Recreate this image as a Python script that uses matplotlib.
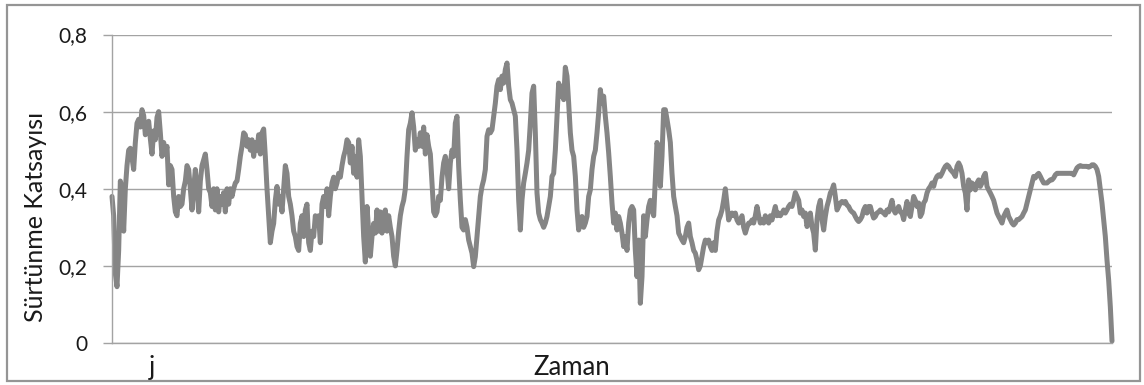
import numpy as np
import matplotlib.pyplot as plt
from matplotlib.patches import Rectangle


# friction coefficient readings, left to right
seg_1 = [0.38, 0.33, 0.18, 0.146, 0.24, 0.42, 0.40, 0.29, 0.40, 0.46,
         0.50, 0.505, 0.48, 0.45, 0.52, 0.57, 0.58, 0.56, 0.605, 0.59,
         0.54, 0.56, 0.575, 0.53, 0.49, 0.55, 0.527, 0.585, 0.60, 0.545,
         0.484, 0.52, 0.49, 0.51, 0.41, 0.46, 0.45, 0.38, 0.34, 0.33,
         0.38, 0.354, 0.36, 0.40, 0.42, 0.46, 0.45, 0.40, 0.345, 0.40,
         0.45, 0.40, 0.34, 0.42, 0.46, 0.475, 0.49, 0.45, 0.40, 0.39,
         0.354, 0.40, 0.345, 0.40, 0.34, 0.38, 0.36, 0.39, 0.34, 0.40,
         0.36, 0.40, 0.38, 0.40, 0.415, 0.42, 0.45, 0.484, 0.51, 0.545,
         0.54, 0.51, 0.527, 0.50, 0.527, 0.484, 0.52, 0.50, 0.54, 0.49,
         0.545, 0.555, 0.484, 0.40, 0.33, 0.26, 0.29, 0.31, 0.37, 0.406,
         0.36, 0.38, 0.34, 0.40, 0.46, 0.44, 0.38]

seg_2 = [0.36, 0.33, 0.29, 0.276, 0.25, 0.24, 0.31, 0.33, 0.276, 0.345,
         0.36, 0.26, 0.24, 0.29, 0.276, 0.33, 0.31, 0.33, 0.26, 0.36,
         0.38, 0.354, 0.40, 0.33, 0.38, 0.415, 0.43, 0.40, 0.415, 0.44,
         0.43, 0.46, 0.484, 0.50, 0.527, 0.52, 0.467, 0.51, 0.44, 0.484,
         0.43, 0.527, 0.484, 0.38, 0.276, 0.21, 0.354, 0.29, 0.225, 0.276,
         0.31, 0.285, 0.345, 0.29, 0.34, 0.285, 0.33, 0.345, 0.29, 0.33,
         0.30, 0.276, 0.225, 0.20, 0.24, 0.29, 0.33, 0.354, 0.37, 0.40,
         0.484, 0.553, 0.57, 0.597, 0.56, 0.50, 0.527, 0.51, 0.545, 0.51,
         0.56, 0.49, 0.54, 0.51, 0.49, 0.415, 0.34, 0.33, 0.34, 0.38,
         0.37, 0.43, 0.467, 0.484, 0.45, 0.40]

seg_3 = [0.467, 0.50, 0.484, 0.57, 0.588, 0.458, 0.371, 0.30, 0.293, 0.32,
         0.30, 0.267, 0.25, 0.233, 0.198, 0.224, 0.276, 0.328, 0.38, 0.406,
         0.423, 0.45, 0.536, 0.553, 0.545, 0.553, 0.588, 0.622, 0.666, 0.683,
         0.657, 0.692, 0.674, 0.709, 0.726, 0.666, 0.631, 0.622, 0.605, 0.588,
         0.50, 0.371, 0.293, 0.371, 0.415, 0.44, 0.467, 0.50, 0.57, 0.648,
         0.666, 0.545, 0.389, 0.337, 0.32, 0.311, 0.30, 0.311, 0.328, 0.354,
         0.38, 0.432, 0.44, 0.50, 0.588, 0.674, 0.64, 0.666, 0.631, 0.715,
         0.692, 0.622, 0.545, 0.50, 0.484, 0.432, 0.346, 0.293, 0.32, 0.328,
         0.30, 0.311, 0.328, 0.38, 0.397, 0.45, 0.484, 0.50, 0.545, 0.597,
         0.657, 0.622, 0.64, 0.588, 0.545, 0.493, 0.432, 0.363, 0.311, 0.337,
         0.293, 0.328]

seg_4 = [0.311, 0.285, 0.25, 0.276, 0.24, 0.311, 0.345, 0.354, 0.345, 0.24,
         0.172, 0.267, 0.103, 0.172, 0.33, 0.276, 0.319, 0.354, 0.37, 0.345,
         0.33, 0.423, 0.52, 0.50, 0.406, 0.484, 0.605, 0.605, 0.58, 0.553,
         0.52, 0.44, 0.38, 0.354, 0.33, 0.285, 0.276, 0.267, 0.26, 0.276,
         0.30, 0.311, 0.276, 0.26, 0.24, 0.233, 0.215, 0.19, 0.20, 0.225,
         0.25, 0.267, 0.26, 0.267, 0.25, 0.24, 0.26, 0.24, 0.29, 0.319,
         0.33, 0.345, 0.37, 0.40, 0.36, 0.319, 0.33, 0.337, 0.33, 0.337,
         0.319, 0.311, 0.319, 0.33, 0.30, 0.285, 0.30, 0.311, 0.311, 0.319,
         0.311, 0.33, 0.354, 0.33, 0.311, 0.319, 0.311, 0.33, 0.319, 0.311,
         0.33, 0.319, 0.337, 0.354, 0.33, 0.337, 0.33, 0.337, 0.345, 0.337,
         0.345, 0.354, 0.36, 0.354, 0.37, 0.39, 0.38, 0.37]

seg_5 = [0.337, 0.345, 0.328, 0.337, 0.302, 0.32, 0.337, 0.302, 0.285, 0.241,
         0.32, 0.354, 0.37, 0.32, 0.293, 0.328, 0.354, 0.37, 0.389, 0.397,
         0.41, 0.38, 0.345, 0.354, 0.363, 0.367, 0.363, 0.367, 0.358, 0.354,
         0.345, 0.34, 0.337, 0.328, 0.32, 0.315, 0.32, 0.328, 0.345, 0.354,
         0.337, 0.354, 0.354, 0.337, 0.324, 0.328, 0.337, 0.34, 0.345, 0.34,
         0.337, 0.332, 0.345, 0.34, 0.354, 0.37, 0.345, 0.337, 0.345, 0.354,
         0.34, 0.337, 0.32, 0.345, 0.367, 0.337, 0.328, 0.354, 0.38, 0.37,
         0.354, 0.363, 0.328, 0.337, 0.363, 0.37, 0.389, 0.40, 0.406, 0.415,
         0.406, 0.423, 0.432, 0.436, 0.432, 0.44, 0.45, 0.458, 0.462, 0.458,
         0.45, 0.445, 0.44, 0.432, 0.458, 0.467, 0.458, 0.44, 0.406, 0.389,
         0.345, 0.423, 0.397, 0.415, 0.406, 0.397, 0.415, 0.423, 0.406, 0.415,
         0.432, 0.44, 0.406, 0.397, 0.389, 0.38, 0.37, 0.354, 0.337, 0.328,
         0.32, 0.311, 0.328, 0.337, 0.345, 0.328, 0.32, 0.311, 0.306, 0.311,
         0.32, 0.32, 0.324, 0.328, 0.337, 0.345, 0.363, 0.38, 0.397, 0.415,
         0.432, 0.428, 0.436, 0.44, 0.432, 0.423, 0.415, 0.415, 0.415, 0.419,
         0.423, 0.423, 0.428, 0.436, 0.44, 0.44, 0.44, 0.44, 0.44, 0.44,
         0.44, 0.44, 0.44, 0.44, 0.436, 0.445, 0.454, 0.458, 0.46, 0.458,
         0.458, 0.458, 0.458, 0.456, 0.458, 0.462, 0.462, 0.458, 0.45, 0.432,
         0.397, 0.363, 0.32, 0.276, 0.215, 0.163, 0.094, 0.005]

y_ticks = [0, 0.2, 0.4, 0.6, 0.8]
y_tick_labels = ['0', '0,2', '0,4', '0,6', '0,8']
x_label_pos = 24  # where the stray "j" category label sits

line_color = '#858585'
grid_color = '#a3a3a3'
font = ['Lato', 'DejaVu Sans']


def main():
    plt.rcParams['font.family'] = font
    surtunme = np.concatenate([seg_1, seg_2, seg_3, seg_4, seg_5])
    zaman = np.arange(len(surtunme))

    fig = plt.figure(figsize=(11.44, 3.85), dpi=100, facecolor='white')
    ax = fig.add_axes([112 / 1144, 42 / 385, 1000 / 1144, 308.5 / 385])

    ax.plot(zaman, surtunme, color=line_color, lw=3.6,
            solid_joinstyle='round', solid_capstyle='round', clip_on=False)

    ax.set_xlim(0, len(surtunme) - 1)
    ax.set_ylim(0, 0.8)
    ax.set_yticks(y_ticks)
    ax.set_yticklabels(y_tick_labels)
    ax.set_xticks([])
    ax.grid(axis='y', color=grid_color, lw=1.0)
    ax.set_axisbelow(True)
    ax.tick_params(axis='y', length=6.5, width=1.0, color=grid_color,
                   pad=11.0, labelsize=15, labelcolor='#1a1a1a')
    for side in ('top', 'right'):
        ax.spines[side].set_visible(False)
    for side in ('left', 'bottom'):
        ax.spines[side].set_color(grid_color)
        ax.spines[side].set_linewidth(1.0)

    x_text = ax.get_xaxis_transform()
    ax.text(x_label_pos, -0.104, 'j', transform=x_text, ha='center',
            va='baseline', fontsize=18.5, color='#1a1a1a')
    ax.text(0.46, -0.104, 'Zaman', transform=ax.transAxes, ha='center',
            va='baseline', fontsize=18.5, color='#1a1a1a')
    ax.text(-0.076, 0.408, 'Sürtünme Katsayısı', transform=ax.transAxes,
            rotation=90, ha='center', va='center', fontsize=18,
            color='#1a1a1a')

    # light frame round the whole chart
    fig.patches.append(Rectangle((7 / 1144, 4 / 385), 1133 / 1144, 376.5 / 385,
                                 transform=fig.transFigure, fill=False,
                                 edgecolor='#959595', lw=1.6))

    fig.savefig('out.png', dpi=100, facecolor='white')


if __name__ == '__main__':
    main()
